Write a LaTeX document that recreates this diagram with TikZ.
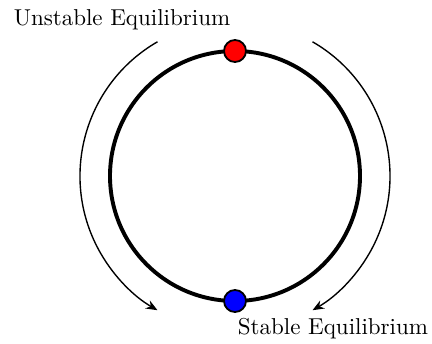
\documentclass[tikz,border=0pt]{standalone}
\usetikzlibrary{arrows.meta}
\begin{document}
\begin{tikzpicture}[x=0.435pt,y=0.435pt,
  ring/.style={line width=1.7pt},
  flow/.style={line width=0.6pt,-{Stealth[length=5pt,width=4pt]}},
  eqdot/.style={circle,draw=black,line width=0.8pt,minimum size=22*0.435pt,inner sep=0pt},
  lbl/.style={font=\normalsize,inner sep=0pt}]
\useasboundingbox (0,0) rectangle (432,343);
\coordinate (c) at (235,167);
\draw[ring] (c) circle[radius=125];
\draw[flow] (c) ++(120:155) arc[start angle=120,end angle=240,radius=155];
\draw[flow] (c) ++(60:155) arc[start angle=60,end angle=-60,radius=155];
\node[eqdot,fill=red] (u) at (235,292) {};
\node[eqdot,fill=blue] (s) at (235,42) {};
\node[lbl] (ul) at (122,323) {Unstable Equilibrium};
\node[lbl] (sl) at (333,14) {Stable Equilibrium};
\end{tikzpicture}
\end{document}
